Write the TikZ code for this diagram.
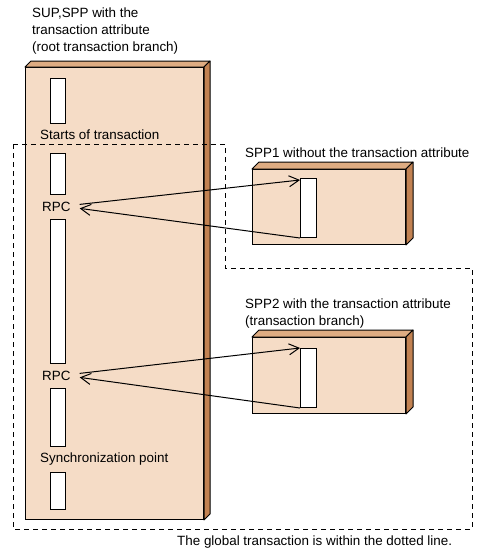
\documentclass[tikz,border=0pt]{standalone}
\usepackage{fontspec}
\setmainfont{Liberation Sans}
\usepackage{tikz}
\usetikzlibrary{arrows.meta}
\definecolor{nodefront}{RGB}{245,220,198}
\definecolor{nodetop}{RGB}{222,172,130}
\definecolor{nodeside}{RGB}{194,130,82}
\tikzstyle{nodebox} = [draw=black, fill=nodefront, line width=1pt, inner sep=0pt, anchor=north west]
\tikzstyle{bar} = [draw=black, fill=white, line width=1pt, inner sep=0pt, minimum width=15pt, anchor=north west]
\tikzstyle{txt} = [inner sep=0pt, font=\fontsize{13.4}{16.7}\selectfont, align=left]
\tikzstyle{globalline} = [line width=1pt, dash pattern=on 5pt off 4pt]
\tikzstyle{arrow} = [line width=1pt, -{Straight Barb[length=10pt,width=11pt,line width=1pt]}]
\newcommand{\boxfaces}[2]{%
  \draw[fill=nodetop, line width=1pt, line join=round] (#1.north west) -- ++(#2,#2) -- ([shift={(#2,#2)}]#1.north east) -- (#1.north east) -- cycle;
  \draw[fill=nodeside, line width=1pt, line join=round] (#1.north east) -- ++(#2,#2) -- ([shift={(#2,#2)}]#1.south east) -- (#1.south east) -- cycle;}
\begin{document}
\begin{tikzpicture}[x=1pt,y=-1pt]
    \useasboundingbox (0,0) rectangle (489,558);

    \node[nodebox, minimum width=178pt, minimum height=452pt] (sup) at (25,67) {};
    \boxfaces{sup}{6pt}
    \node[nodebox, minimum width=153pt, minimum height=75pt] (sppa) at (252,169) {};
    \boxfaces{sppa}{7pt}
    \node[nodebox, minimum width=153pt, minimum height=76pt] (sppb) at (252,337) {};
    \boxfaces{sppb}{7pt}

    \node[bar, minimum height=45pt] (bara) at (50,78) {};
    \node[bar, minimum height=41pt] (barb) at (50,153) {};
    \node[bar, minimum height=144pt] (barc) at (50,219) {};
    \node[bar, minimum height=58pt] (bard) at (50,388) {};
    \node[bar, minimum height=37pt] (bare) at (50,472) {};
    \node[bar, minimum width=16pt, minimum height=59pt] (sppabar) at (300,178) {};
    \node[bar, minimum width=16pt, minimum height=59pt] (sppbbar) at (300,348) {};

    \node[txt, anchor=north west] (suplabel) at (32,8) {SUP,SPP with the\\transaction attribute\\(root transaction branch)};
    \node[txt, anchor=base west] (start) at (40,139) {Starts of transaction};
    \node[txt, anchor=base west] (rpca) at (42,211) {RPC};
    \node[txt, anchor=base west] (rpcb) at (42,380) {RPC};
    \node[txt, anchor=base west] (sync) at (40,462) {Synchronization point};
    \node[txt, anchor=base west] (sppalabel) at (245,157) {SPP1 without the transaction attribute};
    \node[txt, anchor=north west] (sppblabel) at (245,298.5) {SPP2 with the transaction attribute\\(transaction branch)};
    \node[txt, anchor=base west] (globallabel) at (177,545) {The global transaction is within the dotted line.};

    \draw[globalline] (13,144) -- (225,144) -- (225,268) -- (472,268) -- (472,529) -- (13,529) -- cycle;

    \draw[arrow] ([xshift=9pt,yshift=2pt]rpca.east) -- ([yshift=-2pt]sppabar.north west);
    \draw[arrow] (sppabar.south west) -- ([xshift=9pt,yshift=-2pt]rpca.east);
    \draw[arrow] ([xshift=9pt,yshift=2pt]rpcb.east) -- (sppbbar.north west);
    \draw[arrow] (sppbbar.south west) -- ([xshift=9pt,yshift=-2pt]rpcb.east);
\end{tikzpicture}
\end{document}
